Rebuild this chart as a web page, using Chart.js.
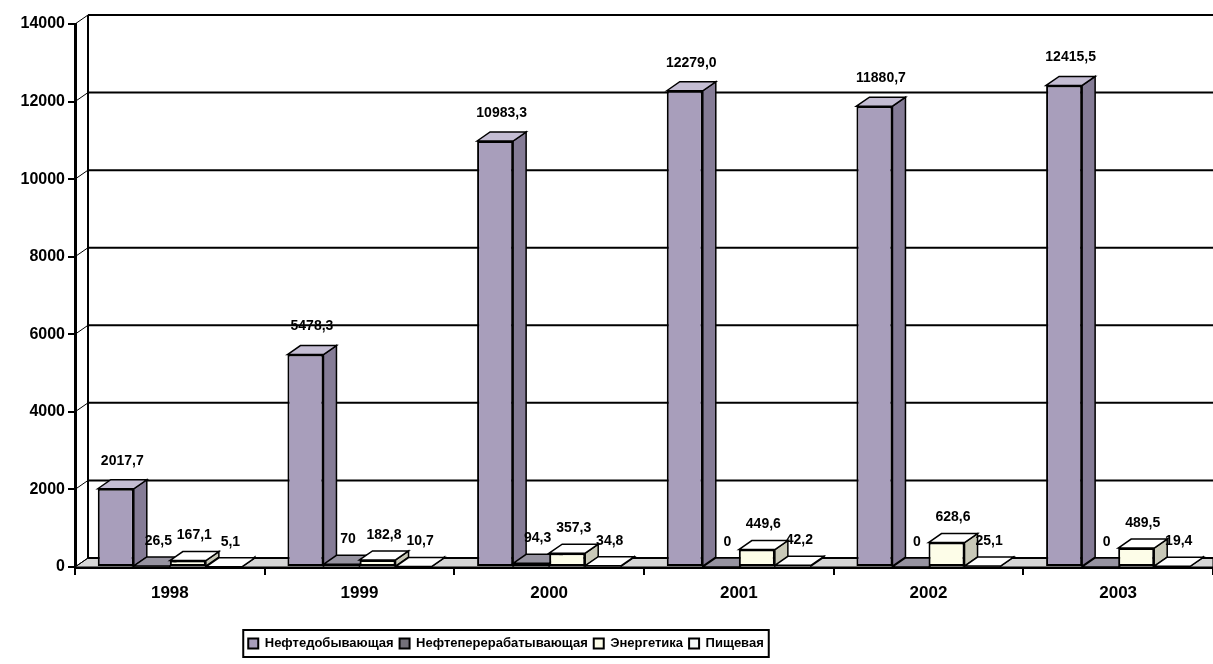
<!DOCTYPE html>
<html>
<head>
<meta charset="utf-8">
<script src="https://cdn.jsdelivr.net/npm/chart.js@4.4.1/dist/chart.umd.min.js"></script>
<style>
html, body { margin: 0; padding: 0; background: #fff; }
#wrap { width: 1213px; height: 664px; }
</style>
</head>
<body>
<div id="wrap"><canvas id="investChart"></canvas></div>
<script>
var years = ["1998", "1999", "2000", "2001", "2002", "2003"];
var seriesNames = ["Нефтедобывающая", "Нефтеперерабатывающая", "Энергетика", "Пищевая"];

var oilExtraction = [2017.7, 5478.3, 10983.3, 12279.0, 11880.7, 12415.5];
var oilRefining = [26.5, 70, 94.3, 0, 0, 0];
var energy = [167.1, 182.8, 357.3, 449.6, 628.6, 489.5];
var food = [5.1, 10.7, 34.8, 42.2, 25.1, 19.4];

var oilExtractionText = ["2017,7", "5478,3", "10983,3", "12279,0", "11880,7", "12415,5"];
var oilRefiningText = ["26,5", "70", "94,3", "0", "0", "0"];
var energyText = ["167,1", "182,8", "357,3", "449,6", "628,6", "489,5"];
var foodText = ["5,1", "10,7", "34,8", "42,2", "25,1", "19,4"];

var yTicks = [0, 2000, 4000, 6000, 8000, 10000, 12000, 14000];

var fills = ["#a89ebb", "#737079", "#fdfde8", "#f4f8f8"];
var sides = ["#857c96", "#55525c", "#c9c9b8", "#c4c8c8"];
var tops = ["#c4bdd3", "#9693a0", "#ffffff", "#ffffff"];

var DX = 13, DY = 9;
var FONT = "'Liberation Sans', Arial, sans-serif";

function poly(ctx, pts, fill) {
    ctx.beginPath();
    ctx.moveTo(pts[0][0], pts[0][1]);
    for (var i = 1; i < pts.length; i++) ctx.lineTo(pts[i][0], pts[i][1]);
    ctx.closePath();
    if (fill) { ctx.fillStyle = fill; ctx.fill(); }
    ctx.stroke();
}

function line(ctx, x1, y1, x2, y2) {
    ctx.beginPath();
    ctx.moveTo(x1, y1);
    ctx.lineTo(x2, y2);
    ctx.stroke();
}

var depthPlugin = {
    id: "depth3d",
    afterLayout: function (chart) {
        // legend sits left of centre in the original
        var lg = chart.legend;
        var shift = (0 + 1012 - (lg.left + lg.right)) / 2;
        lg.left = 0;
        lg.right = 1012;
        lg.width = 1012;
        (lg.legendHitBoxes || []).forEach(function (b) { b.left += shift; });
    },
    beforeDatasetsDraw: function (chart) {
        var ctx = chart.ctx, a = chart.chartArea, ys = chart.scales.y;
        var y0 = ys.getPixelForValue(0);
        ctx.save();
        // floor
        ctx.strokeStyle = "#000";
        ctx.lineWidth = 1;
        poly(ctx, [[a.left, y0], [a.left + DX, y0 - DY], [a.right, y0 - DY], [a.right, y0]], "#d6d6d6");
        // back wall grid
        yTicks.forEach(function (v) {
            var py = ys.getPixelForValue(v);
            ctx.lineWidth = 2;
            line(ctx, a.left + DX, py - DY, a.right, py - DY);
            ctx.lineWidth = 1;
            line(ctx, a.left, py, a.left + DX, py - DY);
        });
        ctx.lineWidth = 2;
        line(ctx, a.left + DX, ys.getPixelForValue(14000) - DY, a.left + DX, y0 - DY);

        // bar depth: sides and tops
        ctx.lineWidth = 1.5;
        chart.data.datasets.forEach(function (ds, i) {
            chart.getDatasetMeta(i).data.forEach(function (bar) {
                var p = bar.getProps(["x", "y", "base", "width"], true);
                var l = p.x - p.width / 2, r = p.x + p.width / 2;
                poly(ctx, [[r, p.y], [r + DX, p.y - DY], [r + DX, p.base - DY], [r, p.base]], sides[i]);
                poly(ctx, [[l, p.y], [l + DX, p.y - DY], [r + DX, p.y - DY], [r, p.y]], tops[i]);
            });
        });
        ctx.restore();
    },
    afterDatasetsDraw: function (chart) {
        var ctx = chart.ctx;
        var texts = [oilExtractionText, oilRefiningText, energyText, foodText];
        ctx.save();
        ctx.fillStyle = "#000";
        ctx.font = "bold 14px " + FONT;
        ctx.textAlign = "center";
        ctx.textBaseline = "middle";
        chart.data.datasets.forEach(function (ds, i) {
            chart.getDatasetMeta(i).data.forEach(function (bar, j) {
                var p = bar.getProps(["x", "y"], true);
                var off = i === 0 ? 19 : 16;
                ctx.fillText(texts[i][j], p.x + DX / 2, p.y - DY - off);
            });
        });
        ctx.restore();
    },
    afterDraw: function (chart) {
        var boxes = chart.legend.legendHitBoxes;
        if (!boxes || !boxes.length) return;
        var x1 = Infinity, x2 = -Infinity, y1 = Infinity, y2 = -Infinity;
        boxes.forEach(function (b) {
            x1 = Math.min(x1, b.left); x2 = Math.max(x2, b.left + b.width);
            y1 = Math.min(y1, b.top); y2 = Math.max(y2, b.top + b.height);
        });
        var ctx = chart.ctx;
        ctx.save();
        ctx.strokeStyle = "#000";
        ctx.lineWidth = 2;
        ctx.strokeRect(x1 - 5, y1 - 7, x2 - x1 + 10, y2 - y1 + 14);
        ctx.restore();
    }
};

var values = [oilExtraction, oilRefining, energy, food];

new Chart("investChart", {
    type: "bar",
    data: {
        labels: years,
        datasets: seriesNames.map(function (name, i) {
            return {
                label: name,
                data: values[i],
                backgroundColor: fills[i],
                borderColor: "#000",
                borderWidth: 2,
                borderSkipped: false,
                categoryPercentage: 0.76,
                barPercentage: 1.0
            };
        })
    },
    options: {
        responsive: true,
        maintainAspectRatio: false,
        animation: false,
        layout: { padding: { top: 24, right: 0, left: 0, bottom: 4 } },
        plugins: {
            tooltip: { enabled: false },
            legend: {
                display: true,
                position: "bottom",
                labels: {
                    color: "#000",
                    font: { family: FONT, size: 13, weight: "bold" },
                    boxWidth: 10,
                    boxHeight: 10,
                    padding: 6
                }
            }
        },
        scales: {
            x: {
                grid: { display: true, drawOnChartArea: false, offset: true, tickLength: 8, color: "#000", lineWidth: 2 },
                border: { display: true, color: "#000", width: 3 },
                ticks: { color: "#000", font: { family: FONT, size: 17, weight: "bold" }, padding: 8 },
                afterFit: function (scale) { scale.height = 64; }
            },
            y: {
                min: 0,
                max: 14000,
                grid: { display: true, drawOnChartArea: false, tickLength: 7, color: "#000", lineWidth: 2 },
                border: { display: true, color: "#000", width: 3 },
                ticks: {
                    stepSize: 2000,
                    color: "#000",
                    padding: 3,
                    font: { family: FONT, size: 16, weight: "bold" },
                    callback: function (v) { return String(v); }
                },
                afterFit: function (scale) { scale.width = 75; }
            }
        }
    },
    plugins: [depthPlugin]
});
</script>
</body>
</html>
